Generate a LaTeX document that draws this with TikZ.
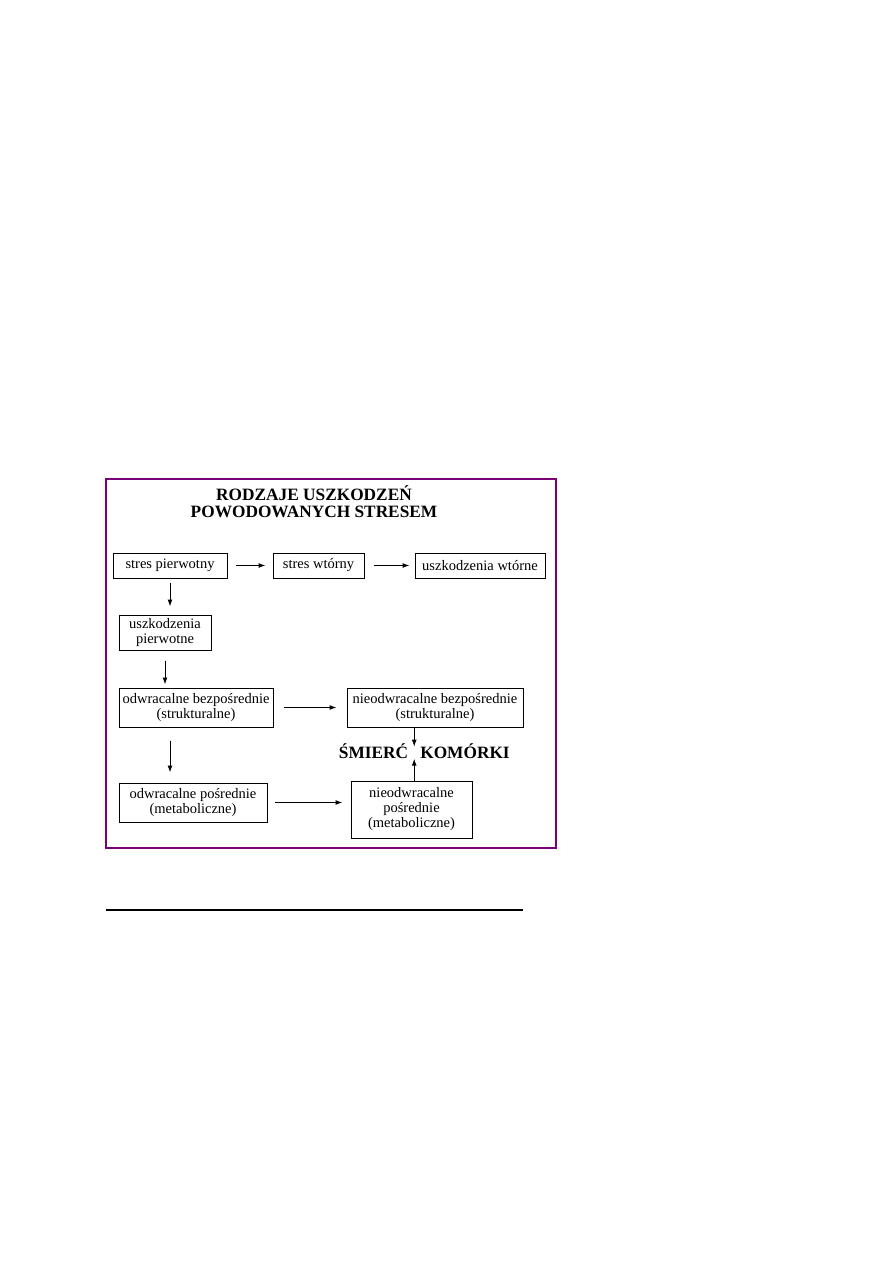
\documentclass[tikz,border=0pt]{standalone}
\usepackage{fontspec}
\setmainfont{Liberation Serif}
\usetikzlibrary{arrows.meta,calc}
\definecolor{framepurple}{RGB}{120,0,120}

\begin{document}
\begin{tikzpicture}[x=1pt, y=-1pt,
    every node/.style={font=\fontsize{14.5}{15}\selectfont},
    box/.style={draw, line width=1pt, inner sep=0pt, align=center},
    arr/.style={-{Latex[length=7pt,width=5pt]}, line width=1pt},
    hdr/.style={font=\fontsize{17.3}{17}\selectfont\bfseries, anchor=base},
]
\useasboundingbox (0,0) rectangle (893,1263);
% === Frame ===
\draw[framepurple, line width=1.3pt] (106,479) rectangle (556,848);
% Title
\node[hdr] (title1) at (314,500) {RODZAJE USZKODZEŃ};
\node[hdr] (title2) at (314,517) {POWODOWANYCH STRESEM};
% Top row
\node[box, minimum width=114pt, minimum height=25pt] (sp) at (170,565.5) {stres pierwotny};
\node[box, minimum width=91pt, minimum height=25pt] (sw) at (318.5,565.5) {stres wtórny};
\node[box, minimum width=130pt, minimum height=25pt] (uw) at (480,565.5) {uszkodzenia wtórne};
% Left column
\node[box, minimum width=92pt, minimum height=35pt] (up) at (165,632.5) {uszkodzenia\\pierwotne};
\node[box, minimum width=154pt, minimum height=39pt] (ob) at (196,707.5) {odwracalne bezpośrednie\\(strukturalne)};
\node[box, minimum width=148pt, minimum height=39pt] (op) at (193,802.5) {odwracalne pośrednie\\(metaboliczne)};
% Right column
\node[box, minimum width=176pt, minimum height=39pt] (nb) at (435,707.5) {nieodwracalne bezpośrednie\\(strukturalne)};
\node[box, minimum width=121pt, minimum height=57pt] (np) at (411.5,809.5) {nieodwracalne\\pośrednie\\(metaboliczne)};
% Cell death
\node[hdr] (smierc) at (373.5,758) {ŚMIERĆ};
\node[hdr] (komorki) at (465,758) {KOMÓRKI};
\coordinate (gap) at ($(smierc.east)!0.5!(komorki.west)$);
% Arrows
\draw[arr, shorten <=8pt, shorten >=7pt] (sp.east) -- (sw.west);
\draw[arr, shorten <=9pt, shorten >=5pt] (sw.east) -- (uw.west);
\draw[arr, shorten <=4pt, shorten >=8pt] (sp.south) -- (sp.south |- up.north);
\draw[arr, shorten <=10pt, shorten >=3pt] (up.south) -- (up.south |- ob.north);
\draw[arr, shorten <=10pt, shorten >=10pt] (ob.east) -- (ob.east -| nb.west);
\draw[arr, shorten <=13pt, shorten >=10pt] (ob.south -| sp) -- (op.north -| sp);
\draw[arr, shorten <=7pt, shorten >=8pt] (op.east) -- (op.east -| np.west);
\draw[arr, shorten >=4pt] (nb.south -| gap) -- (gap);
\draw[arr, shorten >=8pt] (np.north -| gap) -- (gap);
% Rule below
\draw[line width=1.2pt] (106,910) -- (523,910);
\end{tikzpicture}
\end{document}
